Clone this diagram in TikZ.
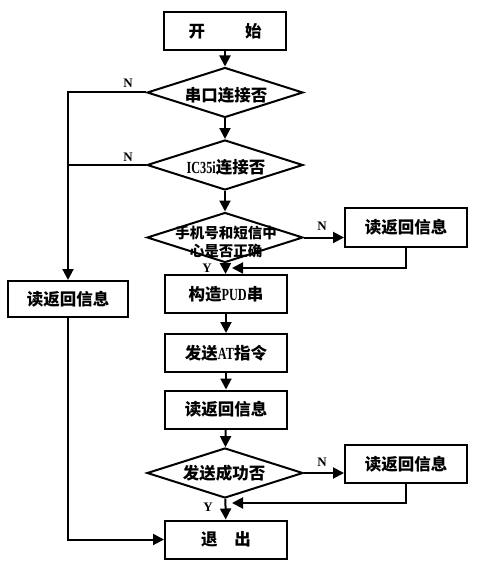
\documentclass[tikz,border=0pt]{standalone}
\usepackage{fontspec}
\usepackage{tikz}
\usetikzlibrary{shapes.geometric,arrows.meta}
\newfontfamily\cjk{Noto Sans CJK SC}
\newfontfamily\lat{Liberation Serif}
\newfontfamily\latnarrow{Liberation Serif}[FakeStretch=0.72]
\newcommand{\en}[1]{{\latnarrow\bfseries\fontsize{17}{17}\selectfont #1}}

\tikzset{
  box/.style={draw, line width=2pt, minimum width=122pt, minimum height=38pt, inner sep=0pt,
    font=\cjk\bfseries\fontsize{16.5}{18}\selectfont},
  ask/.style={draw, diamond, line width=2pt, minimum width=156pt, minimum height=50pt, inner sep=0pt},
  asktext/.style={inner sep=0pt, align=center, font=\cjk\bfseries\fontsize{16.5}{18}\selectfont},
  yn/.style={inner sep=0pt, font=\lat\bfseries\fontsize{13}{13}\selectfont},
  flow/.style={line width=2pt, -{Triangle[length=11pt,width=11pt]}},
  wire/.style={line width=2pt}
}

\begin{document}
\begin{tikzpicture}[x=1pt,y=-1pt]
          \useasboundingbox (0,0) rectangle (500,569);
          \node[box] (start) at (225,31) {开\hspace{40pt}始};
          \node[ask] (d1) at (225,92.5) {};
          \node[asktext] (t1) at (226,95) {串口连接否};
          \node[ask] (d2) at (225,165) {};
          \node[asktext] (t2) at (226,167) {\en{IC35i}连接否};
          \node[ask] (d3) at (225,237.5) {};
          \node[asktext, font=\cjk\bfseries\fontsize{14.5}{18}\selectfont] (t3) at (226,242)
            {手机号和短信中\\心是否正确};
          \node[box] (pud) at (226,294) {构造\en{PUD}串};
          \node[box] (at) at (226,353) {发送\en{AT}指令};
          \node[box] (rd) at (226,409.5) {读返回信息};
          \node[ask] (d4) at (225,473) {};
          \node[asktext] (t4) at (224,473) {发送成功否};
          \node[box] (quit) at (226,539.5) {退\hspace{17pt}出};
          \node[box, minimum height=36pt, minimum width=120pt] (lb) at (68,299) {读返回信息};
          \node[box, minimum height=39pt] (r1) at (406,227.5) {读返回信息};
          \node[box] (r2) at (406,464) {读返回信息};
          \coordinate (m1) at (232,268);
          \coordinate (m2) at (232,503);
          \node[yn] (n1) at (128,83) {N};
          \node[yn] (n2) at (128,157) {N};
          \node[yn] (n3) at (322,226) {N};
          \node[yn] (n4) at (322,462) {N};
          \node[yn] (y1) at (207,268) {Y};
          \node[yn] (y2) at (208,507) {Y};
          \draw[flow] (start) -- (d1);
          \draw[flow] (d1) -- (d2);
          \draw[flow] (d2) -- (d3);
          \draw[flow] (d3) -- (pud);
          \draw[flow] (pud) -- (at);
          \draw[flow] (at) -- (rd);
          \draw[flow] (rd) -- (d4);
          \draw[flow] (d4) -- (quit);
          \draw[flow] (d3.east) -- (d3.east -| r1.west);
          \draw[flow] (r1.south) |- (m1);
          \draw[flow] (d4.east) -- (d4.east -| r2.west);
          \draw[flow] (r2.south) |- (m2);
          \draw[flow] (d1.west) -| (lb.north);
          \draw[wire] (d2.west) -- (d2.west -| lb.north);
          \draw[flow] (lb.south) |- (quit.west);
        \end{tikzpicture}
\end{document}
